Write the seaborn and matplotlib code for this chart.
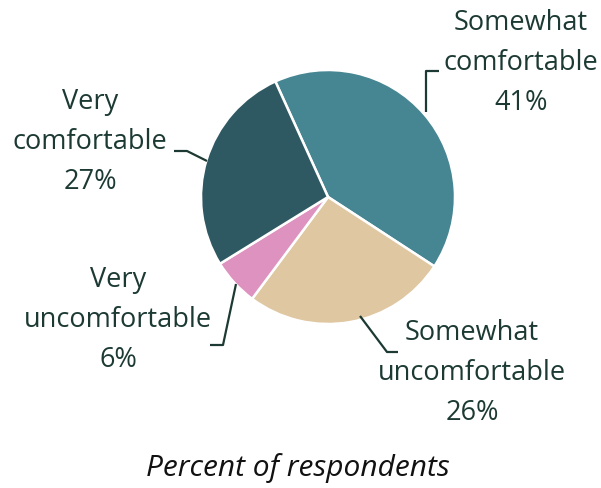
import matplotlib.pyplot as plt
import seaborn as sns

# data
categories = ['Somewhat\ncomfortable', 'Somewhat\nuncomfortable',
              'Very\nuncomfortable', 'Very\ncomfortable']
percents = [41, 26, 6, 27]
colors = ['#468592', '#dfc7a1', '#de92bf', '#2f5962']

sns.set_theme(style='white')
plt.rcParams['font.family'] = ['Open Sans', 'DejaVu Sans']

W, H = 601, 488
CX, CY, R = 328, 197, 127
TXT = '#1c3a33'


def to_data(px, py):
    """pixel position (from top-left) -> pie data coordinates"""
    return (px - CX) / R, (CY - py) / R


fig = plt.figure(figsize=(W / 100, H / 100), dpi=100)
ax = fig.add_axes([0, 0, 1, 1])
ax.pie(percents, colors=colors, startangle=114.5, counterclock=False,
       wedgeprops=dict(edgecolor='white', linewidth=1.8))
ax.set_xlim(to_data(0, 0)[0], to_data(W, 0)[0])
ax.set_ylim(to_data(0, H)[1], to_data(0, 0)[1])
ax.set_aspect('equal')
ax.axis('off')

# label centres and leader lines (pixel layout)
label_pos = [(521, 63), (472, 373), (118, 320), (90, 142)]
leaders = [
    [(426, 112), (426, 71), (439, 71)],
    [(360, 316), (387, 352), (398, 352)],
    [(236, 284), (223, 345), (210, 345)],
    [(207, 161), (187, 151), (174, 151)],
]

for cat, pct, (lx, ly), pts in zip(categories, percents, label_pos, leaders):
    x, y = to_data(lx, ly)
    ax.text(x, y, f'{cat}\n{pct}%', ha='center', va='center', fontsize=19.5,
            color=TXT, linespacing=1.55)
    xs, ys = zip(*[to_data(*p) for p in pts])
    ax.plot(xs, ys, color=TXT, lw=1.6, solid_capstyle='butt')

tx, ty = to_data(298, 468)
ax.text(tx, ty, 'Percent of respondents', ha='center', va='center',
        fontsize=21.5, style='italic', color='#111111')

fig.savefig('out.png', dpi=100)
